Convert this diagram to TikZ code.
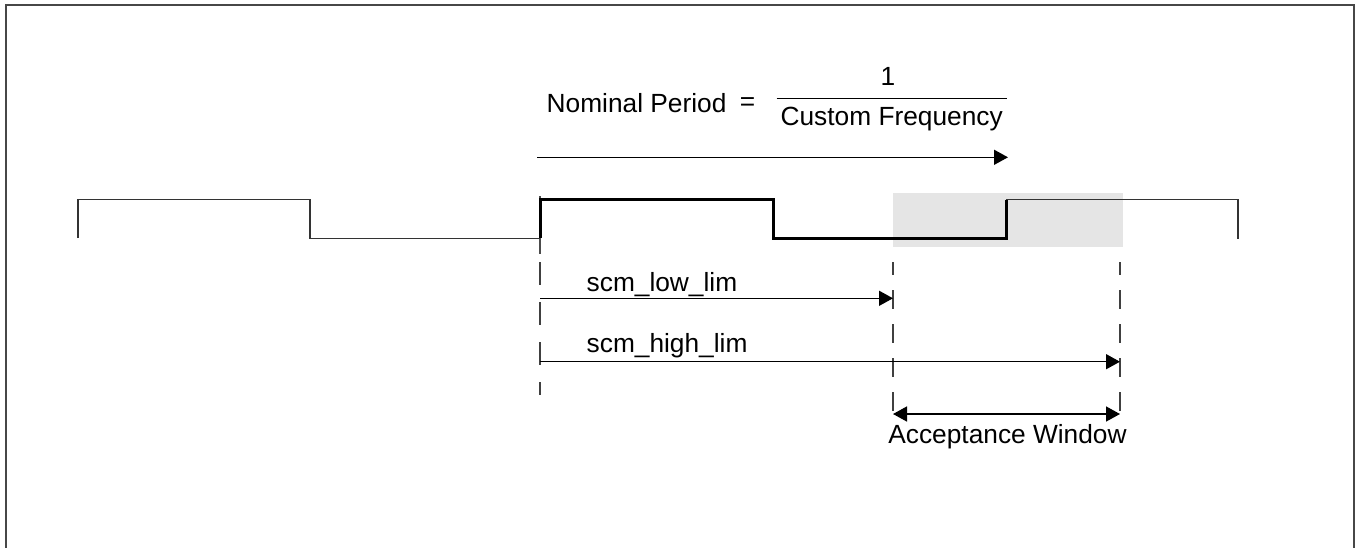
\documentclass[tikz,border=0pt]{standalone}
\usepackage{fontspec}
\setmainfont{Liberation Sans}
\usetikzlibrary{arrows.meta}
\begin{document}
\begin{tikzpicture}[x=1pt,y=-1pt,
  framew/.style={line width=2pt, draw=black!72},
  thinw/.style={line width=1.6pt, draw=black!80, line join=miter},
  thickw/.style={line width=3pt, draw=black, line join=miter},
  arr/.style={line width=1.5pt, -{Triangle[length=14pt,width=15pt]}},
  darr/.style={line width=1.5pt, {Triangle[length=14pt,width=15pt]}-{Triangle[length=14pt,width=15pt]}},
  dashl/.style={line width=1.5pt, draw=black!75, dash pattern=on 23pt off 17pt},
  dashr/.style={line width=1.5pt, draw=black!75, dash pattern=on 19pt off 15pt, dash phase=6pt},
  lbl/.style={font=\fontsize{26.3}{30}\selectfont, inner sep=0pt, outer sep=0pt}]
\useasboundingbox (0,0) rectangle (1355,547);
% frame
\draw[framew] (6,548) -- (6,5) -- (1354,5) -- (1354,548);
% acceptance window shading
\fill[black!10] (893,193) rectangle (1123,247);
% marker line at rising edge
\draw[line width=1.2pt, draw=black!70] (540,196) -- (540,254);
% waveform
\draw[thinw] (78,238) -- (78,199.5) -- (310,199.5) -- (310,238.3) -- (540,238.3);
\draw[thickw] (540,238.3) -- (540,199.5) -- (773,199.5) -- (773,238.3) -- (1006,238.3) -- (1006,199.5);
\draw[thinw] (1006,199.5) -- (1238,199.5) -- (1238,239);
% dashed guides
\coordinate (d1t) at (540,262); \coordinate (d1b) at (540,395);
\coordinate (d2t) at (893,262); \coordinate (d2b) at (893,420);
\coordinate (d3t) at (1120,262); \coordinate (d3b) at (1120,420);
\draw[dashl] (d1t) -- (d1b);
\draw[dashr] (d2t) -- (d2b);
\draw[dashr] (d3t) -- (d3b);
% title
\node[lbl, anchor=base west] (np) at (546.7,112) {Nominal Period};
\node[lbl, anchor=center] (eq) at (747.5,104) {=};
\node[lbl, anchor=base] (one) at (888,85) {1};
\node[lbl, anchor=base] (cf) at (891.7,125) {Custom Frequency};
\coordinate (fl) at (776.7,98.3); \coordinate (fr) at (1007,98.3);
\draw[line width=1.5pt] (fl) -- (fr);
% nominal period arrow
\coordinate (pa) at (537,157.3); \coordinate (pb) at (1008,157.3);
\draw[arr] (pa) -- (pb);
% scm_low_lim
\node[lbl, anchor=base west] (lo) at (586.7,291) {scm\_low\_lim};
\coordinate (la) at (540,298.3); \coordinate (lb) at (893,298.3);
\draw[arr] (la) -- (lb);
% scm_high_lim
\node[lbl, anchor=base west] (hi) at (586.7,352) {scm\_high\_lim};
\coordinate (ha) at (540,361.7); \coordinate (hb) at (1120,361.7);
\draw[arr] (ha) -- (hb);
% acceptance window
\coordinate (wa) at (893,414); \coordinate (wb) at (1120,414);
\draw[darr] (wa) -- (wb);
\node[lbl, anchor=base] (aw) at (1007.5,443) {Acceptance Window};
\end{tikzpicture}
\end{document}
